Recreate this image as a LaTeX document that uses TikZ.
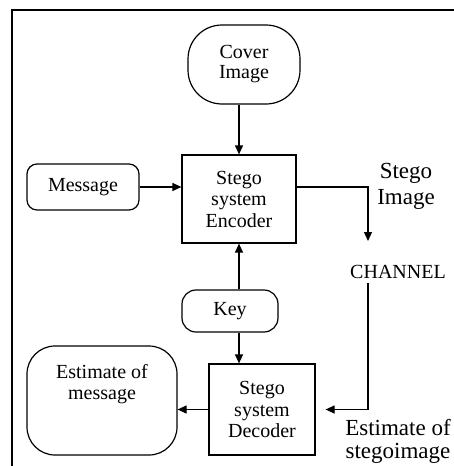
\documentclass[tikz,border=0pt]{standalone}
\usepackage{fontspec}
\setmainfont{Liberation Serif}
\usetikzlibrary{arrows.meta,calc}
\begin{document}
\begin{tikzpicture}[x=1pt,y=-1pt,
  box/.style={draw,line width=1.2pt,inner sep=0pt,align=center,font=\fontsize{20}{21.5}\selectfont},
  arr/.style={line width=1.2pt,-{Triangle[length=9pt,width=8pt]}},
  ln/.style={line width=1.2pt},
  lbl/.style={inner sep=0pt,align=center}
]
\useasboundingbox (0,0) rectangle (454,466);
\draw[line width=1.5pt] (12,466) -- (12,10) -- (454,10);

\node[box,rounded corners=34pt,minimum width=112pt,minimum height=79pt,font=\fontsize{20}{20}\selectfont] (cover) at (244,64.5) {Cover\\Image};
\node[box,minimum width=114pt,minimum height=88pt] (enc) at (239,199) {Stego\\system\\Encoder};
\node[box,rounded corners=10pt,minimum width=112pt,minimum height=46pt] (msg) at (83,187) {Message};
\node[box,rounded corners=14pt,minimum width=96pt,minimum height=42pt] (key) at (230,311) {Key};
\node[box,minimum width=106pt,minimum height=91pt] (dec) at (262,409.5) {Stego\\system\\Decoder};
\node[box,rounded corners=28pt,minimum width=150pt,minimum height=109pt,
  label={[lbl,font=\fontsize{20}{21}\selectfont,anchor=north,yshift=-19pt]north:{Estimate of\\message}}] (est) at (102,400.5) {};

\node[lbl,font=\fontsize{20}{22}\selectfont] (chan) at (398,272) {CHANNEL};
\node[lbl,font=\fontsize{23}{26}\selectfont] (si) at (406,186) {Stego\\Image};
\node[lbl,font=\fontsize{23}{23}\selectfont] (es) at (398,441) {Estimate of\\stegoimage};

\coordinate (chin) at (368,241);
\coordinate (chout) at (368,283);

\draw[arr] (cover.south -| enc.north) -- (enc.north);
\draw[arr] (msg.east) -- (enc.west |- msg.east);
\draw[arr] (enc.east |- msg.east) -| (chin);
\draw[arr] (key.north -| enc.south) -- (enc.south);
\draw[arr] (key.south -| enc.south) -- (dec.north -| enc.south);
\draw[arr,shorten >=10pt] (chout) |- (dec.east);
\draw[arr] (dec.west) -- (dec.west -| est.east);
\end{tikzpicture}
\end{document}
